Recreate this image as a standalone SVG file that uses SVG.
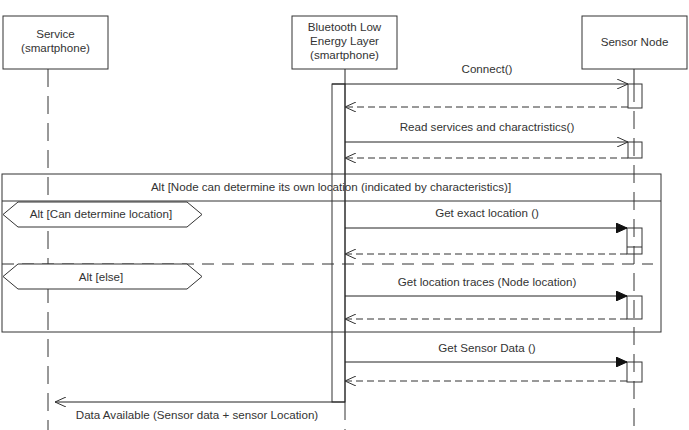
<svg xmlns="http://www.w3.org/2000/svg" width="689" height="430" viewBox="0 0 689 430">
<style>
.bx{fill:#fff;stroke:#333;stroke-width:1}
.t{font-family:"Liberation Sans",Arial,sans-serif;font-size:11.6px;fill:#333;text-anchor:middle}
.ll{stroke:#333;stroke-width:1;stroke-dasharray:18 9;fill:none}
.msg{stroke:#222;stroke-width:1;fill:none}
.ret{stroke:#333;stroke-width:1;stroke-dasharray:7 4;fill:none}
.act{fill:none;stroke:#333;stroke-width:1}
.fr{fill:none;stroke:#333;stroke-width:1}
</style>
<defs>
<marker id="open" markerWidth="12" markerHeight="10" refX="11" refY="5" orient="auto" markerUnits="userSpaceOnUse"><path d="M0,0 L11,5 L0,10" fill="none" stroke="#333" stroke-width="1"/></marker>
<marker id="fill" markerWidth="12" markerHeight="10" refX="11" refY="5" orient="auto" markerUnits="userSpaceOnUse"><path d="M0,0 L11,5 L0,10 Z" fill="#111" stroke="#111" stroke-width="1"/></marker>
</defs>
<rect width="689" height="430" fill="#fff"/>
<g id="lifelines">
<line class="ll" x1="48" y1="69" x2="48" y2="430"/>
<line class="msg" x1="345" y1="69" x2="345" y2="402"/>
<line class="ll" x1="345" y1="402" x2="345" y2="430"/>
<line class="msg" x1="634" y1="69" x2="634" y2="84"/>
<line class="ll" x1="634" y1="84" x2="634" y2="430"/>
</g>
<g id="service"><rect class="bx" x="3" y="16" width="105" height="53"/><text class="t" x="55.5" y="38">Service</text><text class="t" x="55.5" y="52">(smartphone)</text></g>
<g id="ble"><rect class="bx" x="292" y="16" width="105" height="53"/><text class="t" x="344.5" y="31">Bluetooth Low</text><text class="t" x="344.5" y="45">Energy Layer</text><text class="t" x="344.5" y="59">(smartphone)</text></g>
<g id="sensor"><rect class="bx" x="582" y="16" width="105" height="53"/><text class="t" x="634.5" y="46">Sensor Node</text></g>
<g id="frame">
<rect class="fr" x="2" y="174" width="659" height="158"/>
<line class="fr" x1="2" y1="201" x2="661" y2="201"/>
<text class="t" x="331" y="191">Alt [Node can determine its own location (indicated by characteristics)]</text>
<line class="fr" x1="2" y1="264" x2="653" y2="264" stroke-dasharray="12 8"/>
<path class="bx" d="M3,214.5 L18,202 L187,202 L202,214.5 L187,227 L18,227 Z"/>
<text class="t" x="101" y="218">Alt [Can determine location]</text>
<path class="bx" d="M3,276.5 L18,264 L187,264 L202,276.5 L187,289 L18,289 Z"/>
<text class="t" x="101" y="281">Alt [else]</text>
</g>
<g id="activations">
<rect class="act" x="332" y="84" width="13" height="318"/>
<rect class="act" x="628" y="84" width="14" height="24"/>
<rect class="act" x="628" y="142" width="14" height="16"/>
<rect class="act" x="627" y="228" width="15" height="26"/>
<line class="act" x1="627" y1="247" x2="642" y2="247"/>
<rect class="act" x="627" y="296" width="15" height="23"/>
<rect class="act" x="627" y="362" width="15" height="20"/>
</g>
<g id="connectors">
<line class="msg" x1="332" y1="84" x2="628" y2="84" marker-end="url(#open)"/>
<text class="t" x="487" y="73">Connect()</text>
<line class="ret" x1="628" y1="107" x2="345" y2="107" marker-end="url(#open)"/>
<line class="msg" x1="345" y1="142" x2="628" y2="142" marker-end="url(#open)"/>
<text class="t" x="487" y="131">Read services and charactristics()</text>
<line class="ret" x1="628" y1="158" x2="345" y2="158" marker-end="url(#open)"/>
<line class="msg" x1="345" y1="228" x2="627" y2="228" marker-end="url(#fill)"/>
<text class="t" x="487" y="217">Get exact location ()</text>
<line class="ret" x1="627" y1="254" x2="345" y2="254" marker-end="url(#open)"/>
<line class="msg" x1="345" y1="296" x2="627" y2="296" marker-end="url(#fill)"/>
<text class="t" x="487" y="286">Get location traces (Node location)</text>
<line class="ret" x1="627" y1="319" x2="345" y2="319" marker-end="url(#open)"/>
<line class="msg" x1="345" y1="362" x2="627" y2="362" marker-end="url(#fill)"/>
<text class="t" x="487" y="352">Get Sensor Data ()</text>
<line class="ret" x1="627" y1="381" x2="345" y2="381" marker-end="url(#open)"/>
<line class="msg" x1="345" y1="402" x2="55" y2="402" marker-end="url(#open)"/>
<text class="t" x="197" y="419">Data Available (Sensor data + sensor Location)</text>
</g>
</svg>
